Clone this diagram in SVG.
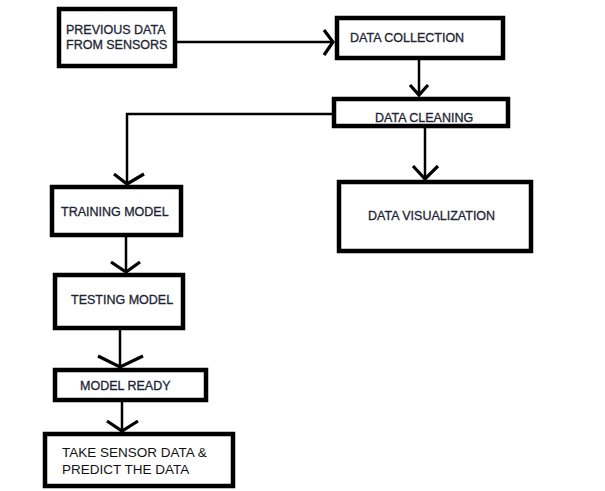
<svg xmlns="http://www.w3.org/2000/svg" width="605" height="491" viewBox="0 0 605 491">
<style>
.box{fill:#fff;stroke:#000;stroke-width:4.5}
.lbl{font-family:"Liberation Sans",Arial,sans-serif;font-size:12.5px;fill:#1c2434;stroke:#1c2434;stroke-width:0.3}
.lbl2{font-family:"Liberation Sans",Arial,sans-serif;font-size:13.5px;fill:#111}
.ln{fill:none;stroke:#000;stroke-width:2.5}
.hd{fill:none;stroke:#000;stroke-width:3.2;stroke-linejoin:miter}
</style>
<rect width="605" height="491" fill="#fff"/>
<g id="connectors">
<path class="ln" d="M177,42 H333"/>
<path class="hd" d="M324,30 L333,42 L324,55"/>
<path class="ln" d="M419,60 V95"/>
<path class="hd" d="M410,85 L419,95 L428,85"/>
<path class="ln" d="M425,128 V179"/>
<path class="hd" d="M413,166 L425,179 L438,166"/>
<path class="ln" d="M332,114 H127 V184"/>
<path class="hd" d="M114,174 L127,184 L144,174"/>
<path class="ln" d="M126,237 V272"/>
<path class="hd" d="M111,262 L126,272 L140,262"/>
<path class="ln" d="M120,330 V367"/>
<path class="hd" d="M98,356 L120,367 L143,356"/>
<path class="ln" d="M122,402 V431"/>
<path class="hd" d="M107,421 L122,431 L138,421"/>
</g>
<g id="previous-data">
<rect class="box" x="59" y="9" width="116" height="57"/>
<text class="lbl" x="66" y="34">PREVIOUS DATA</text>
<text class="lbl" x="66" y="49">FROM SENSORS</text>
</g>
<g id="data-collection">
<rect class="box" x="337" y="18" width="166" height="40"/>
<text class="lbl" x="350" y="42">DATA COLLECTION</text>
</g>
<g id="data-cleaning">
<rect class="box" x="334" y="99" width="174" height="27"/>
<text class="lbl" x="375" y="122">DATA CLEANING</text>
</g>
<g id="data-visualization">
<rect class="box" x="339" y="182" width="192" height="69"/>
<text class="lbl" x="368" y="220">DATA VISUALIZATION</text>
</g>
<g id="training-model">
<rect class="box" x="52" y="187" width="129" height="48"/>
<text class="lbl" x="61" y="216">TRAINING MODEL</text>
</g>
<g id="testing-model">
<rect class="box" x="55" y="275" width="128" height="53"/>
<text class="lbl" x="71" y="304">TESTING MODEL</text>
</g>
<g id="model-ready">
<rect class="box" x="55" y="370" width="151" height="30"/>
<text class="lbl" x="80" y="390">MODEL READY</text>
</g>
<g id="take-sensor-data">
<rect class="box" x="45" y="434" width="188" height="52"/>
<text class="lbl2" x="62" y="457">TAKE SENSOR DATA &amp;</text>
<text class="lbl2" x="62" y="474">PREDICT THE DATA</text>
</g>
</svg>
